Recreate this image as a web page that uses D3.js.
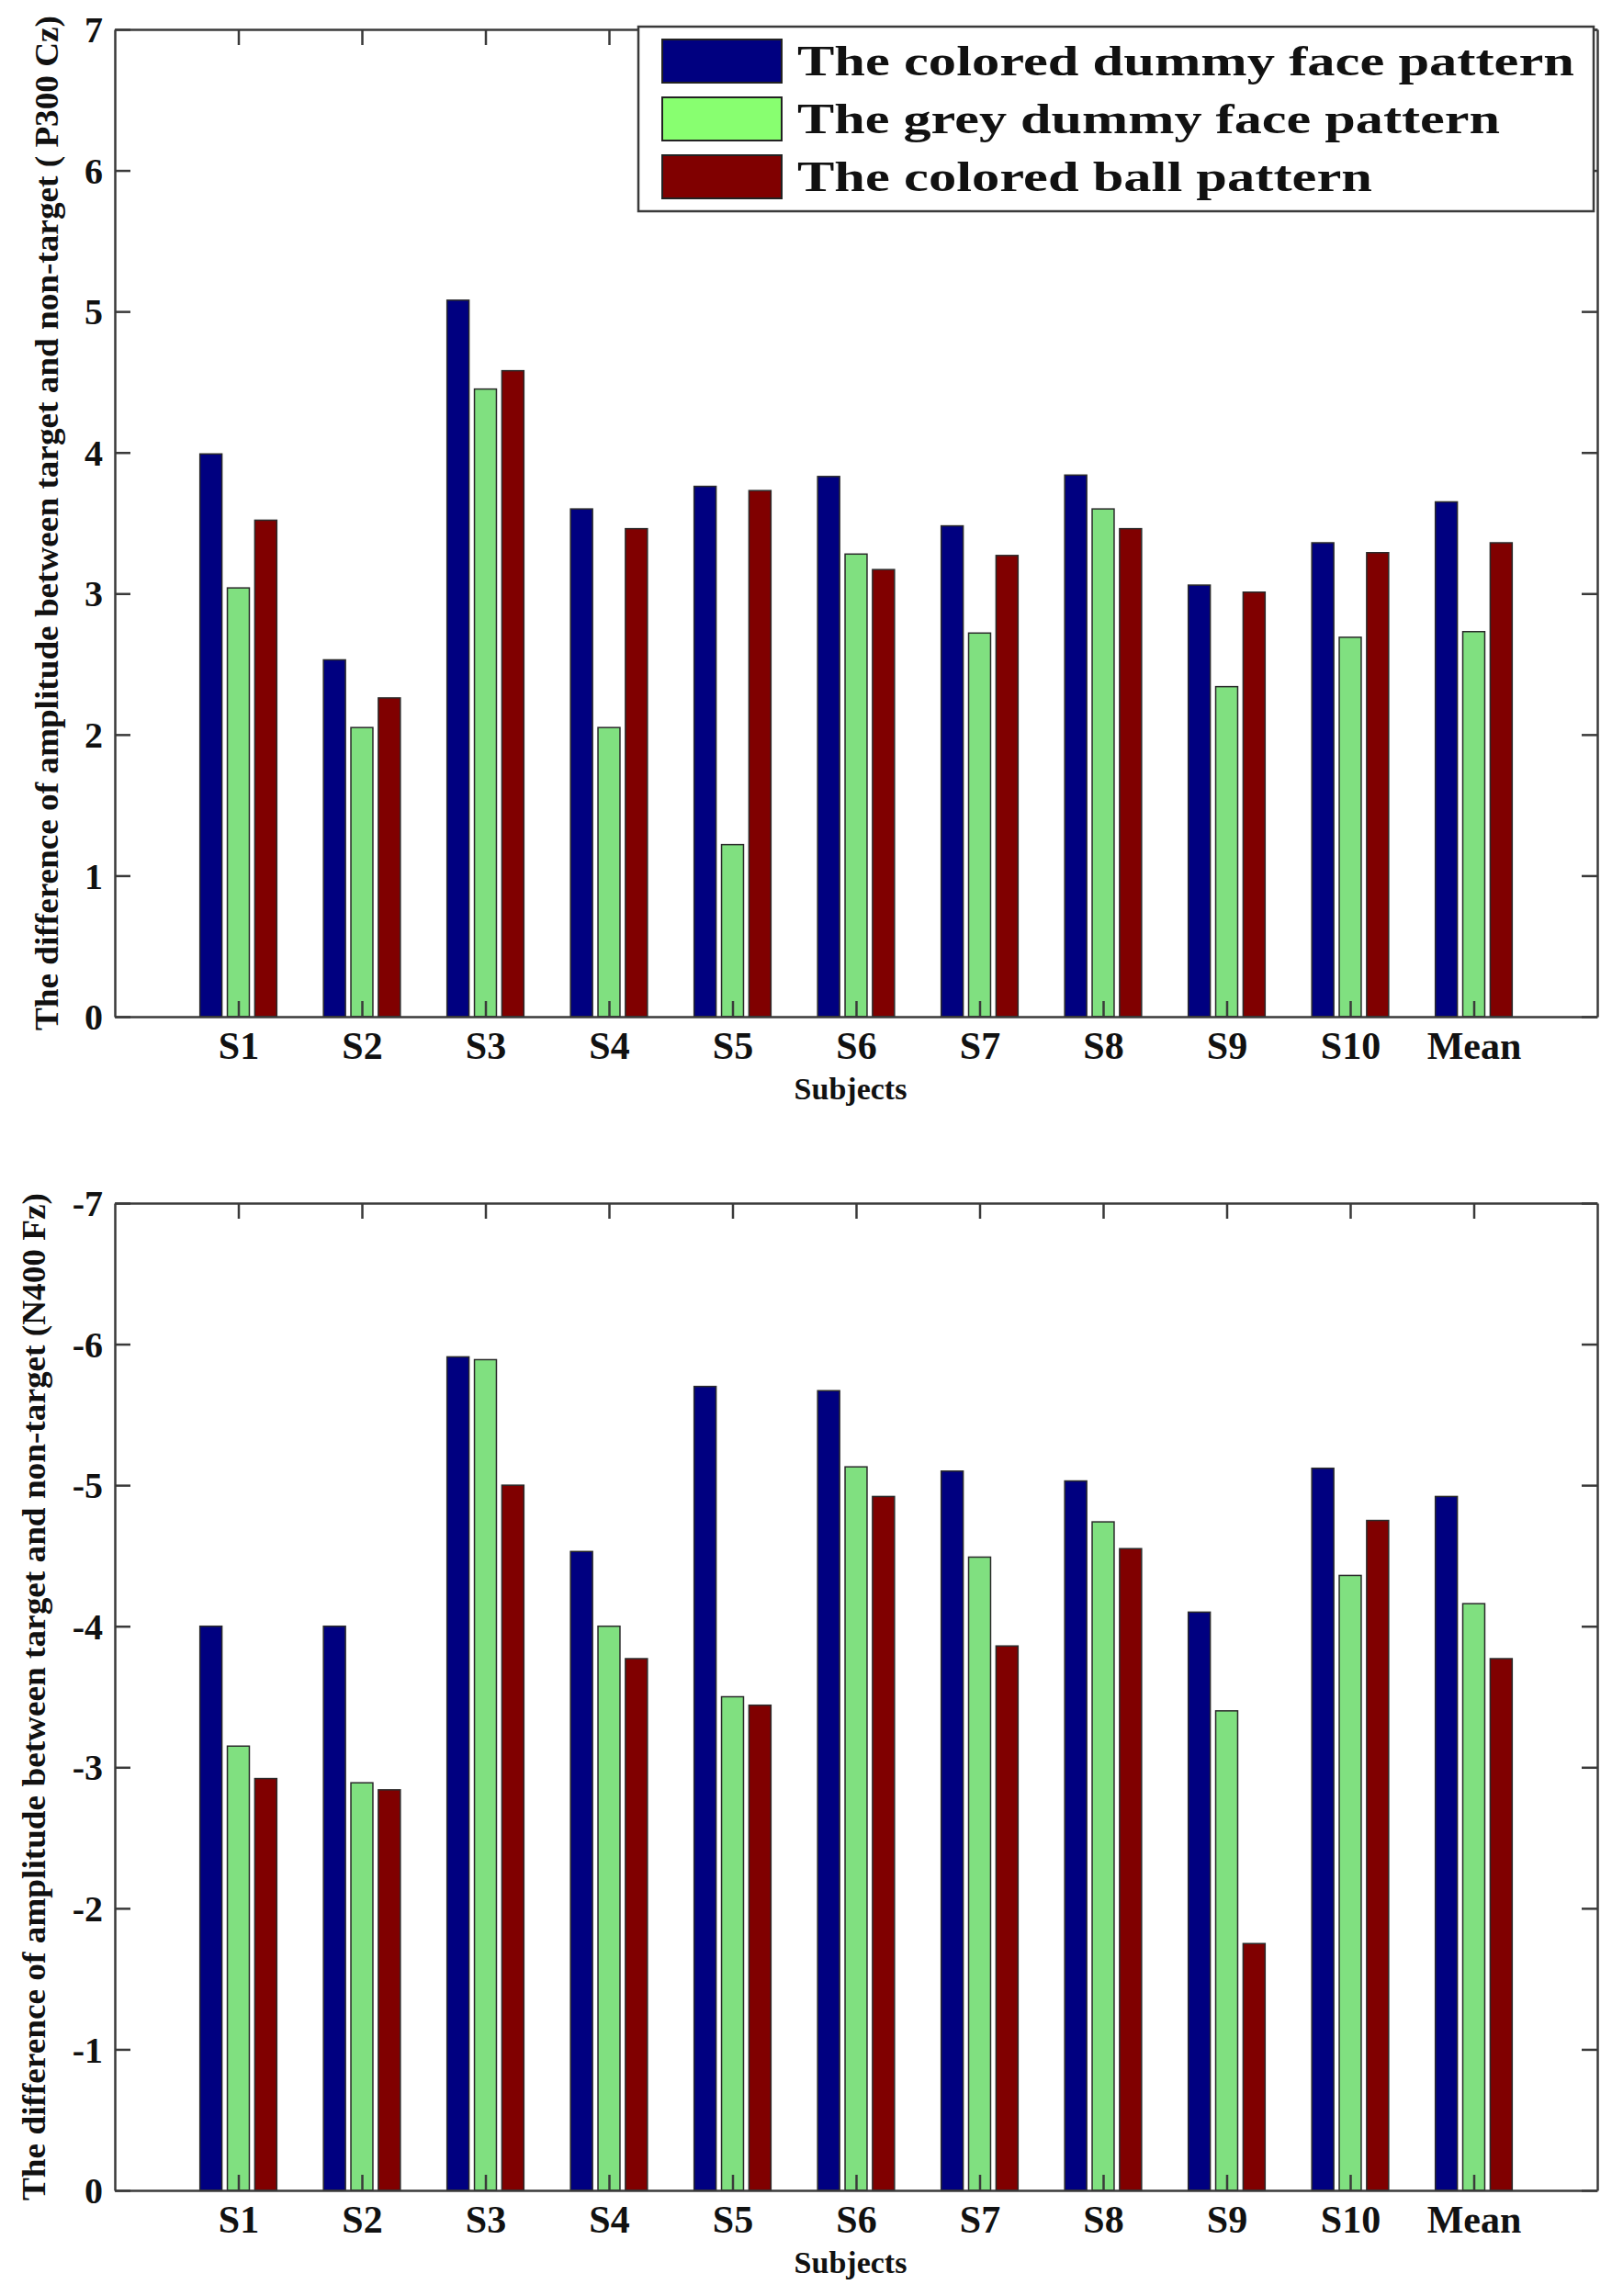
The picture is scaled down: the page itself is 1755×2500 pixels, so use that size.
<!DOCTYPE html>
<html>
<head>
<meta charset="utf-8">
<script src="https://cdn.jsdelivr.net/npm/d3@7"></script>
<style>
  body { margin: 0; background: #fff; }
  svg text { font-family: "Liberation Serif", "Times New Roman", serif; font-weight: bold; fill: #111; }
</style>
</head>
<body>
<svg id="chart" width="1755" height="2500"></svg>
<script>
(function () {
  "use strict";

  // data
  var categories = ["S1", "S2", "S3", "S4", "S5", "S6", "S7", "S8", "S9", "S10", "Mean"];
  var seriesNames = ["The colored dummy face pattern", "The grey dummy face pattern", "The colored ball pattern"];

  var p300Colored = [3.99, 2.53, 5.08, 3.60, 3.76, 3.83, 3.48, 3.84, 3.06, 3.36, 3.65];
  var p300Grey    = [3.04, 2.05, 4.45, 2.05, 1.22, 3.28, 2.72, 3.60, 2.34, 2.69, 2.73];
  var p300Ball    = [3.52, 2.26, 4.58, 3.46, 3.73, 3.17, 3.27, 3.46, 3.01, 3.29, 3.36];

  var n400Colored = [-4.00, -4.00, -5.91, -4.53, -5.70, -5.67, -5.10, -5.03, -4.10, -5.12, -4.92];
  var n400Grey    = [-3.15, -2.89, -5.89, -4.00, -3.50, -5.13, -4.49, -4.74, -3.40, -4.36, -4.16];
  var n400Ball    = [-2.92, -2.84, -5.00, -3.77, -3.44, -4.92, -3.86, -4.55, -1.75, -4.75, -3.77];

  var p300Ticks = [0, 1, 2, 3, 4, 5, 6, 7];
  var n400Ticks = [0, -1, -2, -3, -4, -5, -6, -7];

  var barColors = ["#000080", "#80e080", "#800000"];
  var legendColors = ["#000080", "#88ff70", "#800000"];

  var svg = d3.select("#chart");
  svg.append("rect").attr("width", 1755).attr("height", 2500).attr("fill", "#fff");

  var left = 125, right = 1739;
  var x = d3.scaleLinear().domain([0, categories.length + 1]).range([left, right]);
  var unit = x(1) - x(0);
  var barW = unit * 0.178;
  var offsets = [-0.222, 0, 0.222];

  function panel(opts) {
    var y = d3.scaleLinear().domain(opts.domain).range([opts.bottom, opts.top]);
    var g = svg.append("g");
    var series = opts.series;

    // bars
    series.forEach(function (vals, si) {
      g.append("g").selectAll("rect")
        .data(vals)
        .enter().append("rect")
          .attr("x", function (d, i) { return x(i + 1 + offsets[si]) - barW / 2; })
          .attr("y", function (d) { return Math.min(y(0), y(d)); })
          .attr("width", barW)
          .attr("height", function (d) { return Math.abs(y(0) - y(d)); })
          .attr("fill", barColors[si])
          .attr("stroke", "#2a2a2a")
          .attr("stroke-width", 1.5);
    });

    var tickVals = d3.range(1, categories.length + 1);

    // axes, ticks pointing inward on all four sides
    var axL = g.append("g").attr("transform", "translate(" + left + ",0)")
      .call(d3.axisLeft(y).tickValues(opts.ticks).tickFormat(function (d) { return String(d); })
        .tickSize(-17).tickSizeOuter(0).tickPadding(13));
    axL.selectAll("text").attr("font-size", 40).attr("dy", "0.34em");

    g.append("g").attr("transform", "translate(" + right + ",0)")
      .call(d3.axisRight(y).tickValues(opts.ticks).tickFormat("").tickSize(-17).tickSizeOuter(0));

    g.append("g").attr("transform", "translate(0," + opts.top + ")")
      .call(d3.axisTop(x).tickValues(tickVals).tickFormat("").tickSize(-17).tickSizeOuter(0));

    var axB = g.append("g").attr("transform", "translate(0," + opts.bottom + ")")
      .call(d3.axisBottom(x).tickValues(tickVals)
        .tickFormat(function (d) { return categories[d - 1]; })
        .tickSize(-17).tickSizeOuter(0));
    axB.selectAll("text").attr("font-size", 42).attr("y", 46).attr("dy", 0);

    g.selectAll(".domain, .tick line").attr("stroke", "#3a3a3a").attr("stroke-width", 2.5);
    g.selectAll(".tick text").attr("font-family", null).attr("fill", "#111");

    // axis labels
    g.append("text")
      .attr("transform", "translate(" + opts.labelX + "," + ((opts.top + opts.bottom) / 2) + ") rotate(-90)")
      .attr("text-anchor", "middle")
      .attr("dy", "0.35em")
      .attr("font-size", 36)
      .attr("textLength", opts.labelLen)
      .attr("lengthAdjust", "spacingAndGlyphs")
      .text(opts.label);

    g.append("text")
      .attr("x", 926).attr("y", opts.bottom + 90)
      .attr("text-anchor", "middle")
      .attr("font-size", 34)
      .text("Subjects");

    return g;
  }

  panel({
    top: 32, bottom: 1107, domain: [0, 7], ticks: p300Ticks,
    series: [p300Colored, p300Grey, p300Ball],
    label: "The difference of amplitude between target and non-target ( P300 Cz)",
    labelX: 50, labelLen: 1105
  });

  panel({
    top: 1310, bottom: 2385, domain: [0, -7], ticks: n400Ticks,
    series: [n400Colored, n400Grey, n400Ball],
    label: "The difference of amplitude between target and non-target (N400 Fz)",
    labelX: 36, labelLen: 1097
  });

  // legend (top panel)
  var lg = svg.append("g");
  lg.append("rect")
    .attr("x", 695).attr("y", 29).attr("width", 1040).attr("height", 201)
    .attr("fill", "#fff").attr("stroke", "#3a3a3a").attr("stroke-width", 2.5);
  var textLens = [846, 765, 626];
  var rows = lg.selectAll("g.row").data(seriesNames).enter().append("g").attr("class", "row")
    .attr("transform", function (d, i) { return "translate(0," + (i * 63) + ")"; });
  rows.append("rect")
    .attr("x", 721).attr("y", 43).attr("width", 130).attr("height", 47)
    .attr("fill", function (d, i) { return legendColors[i]; })
    .attr("stroke", "#222").attr("stroke-width", 2);
  rows.append("text")
    .attr("x", 868).attr("y", 82)
    .attr("font-size", 46)
    .attr("textLength", function (d, i) { return textLens[i]; })
    .attr("lengthAdjust", "spacingAndGlyphs")
    .text(function (d) { return d; });
}());
</script>
</body>
</html>
